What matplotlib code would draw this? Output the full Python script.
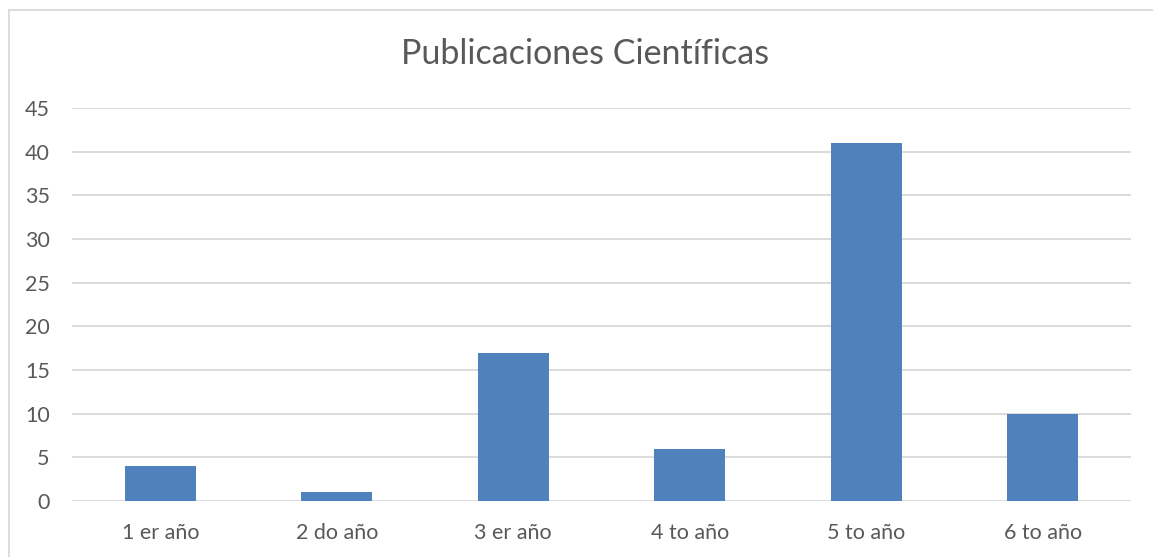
import matplotlib
matplotlib.use("Agg")
from matplotlib import pyplot as plt
from matplotlib.lines import Line2D
import numpy as np

categories = ["1 er año", "2 do año", "3 er año", "4 to año", "5 to año", "6 to año"]
values = [4, 1, 17, 6, 41, 10]
yticks = [0, 5, 10, 15, 20, 25, 30, 35, 40, 45]

plt.rcParams['font.family'] = ['Lato', 'DejaVu Sans']
text_color = '#595959'
W, H = 1153, 557

fig = plt.figure(figsize=(W / 100, H / 100), dpi=100)
ax = fig.add_axes([72 / W, (H - 501) / H, (1131 - 72) / W, (501 - 108) / H])

x = np.arange(len(categories))
ax.bar(x, values, width=0.4, color='#4F81BD', zorder=3)

ax.set_xlim(-0.5, len(categories) - 0.5)
ax.set_ylim(0, 45)
ax.set_yticks(yticks)
ax.set_xticks(x)
ax.set_xticklabels(categories)
ax.grid(axis='y', color='#D9D9D9', linewidth=1.3, zorder=0)
ax.tick_params(length=0, labelsize=15.5, colors=text_color)
ax.tick_params(axis='x', pad=16)
ax.tick_params(axis='y', pad=16)
for s in ax.spines.values():
    s.set_visible(False)

fig.text(585 / W, 1 - 54 / H, "Publicaciones Científicas", ha='center', va='center',
         fontsize=24.5, color=text_color)

# outer chart border (left and top visible)
fig.add_artist(Line2D([8.5 / W, 8.5 / W], [0, 1 - 9.5 / H], color='#D9D9D9', linewidth=1.3))
fig.add_artist(Line2D([8.5 / W, 1], [1 - 9.5 / H, 1 - 9.5 / H], color='#D9D9D9', linewidth=1.3))

fig.savefig("out.png", dpi=100)
